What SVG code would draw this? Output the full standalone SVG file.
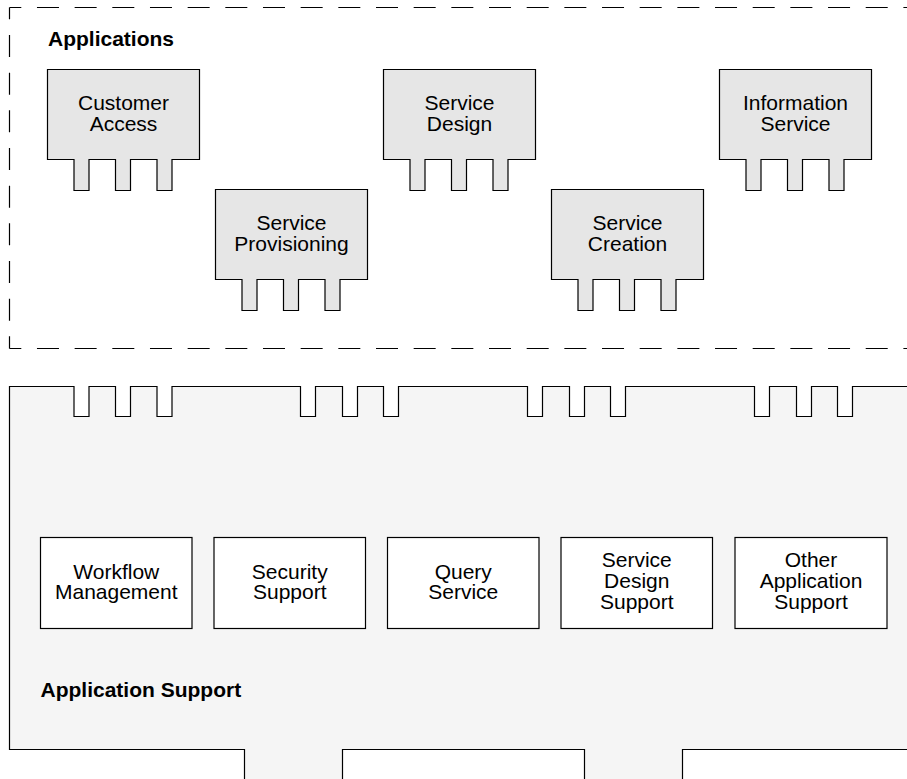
<svg xmlns="http://www.w3.org/2000/svg" width="907" height="779" viewBox="0 0 907 779">
<defs>
<style>
.frame{fill:none;stroke:#000;stroke-width:1.2;stroke-dasharray:22 15.67;stroke-dashoffset:10.2}
.app{fill:#e6e6e6;stroke:#000;stroke-width:1.2}
.sup{fill:#f5f5f5;stroke:#000;stroke-width:1.2}
.box{fill:#ffffff;stroke:#000;stroke-width:1.2}
.t{font-family:"Liberation Sans",Arial,Helvetica,sans-serif;font-size:21px;fill:#000;text-anchor:middle}
.h{font-family:"Liberation Sans",Arial,Helvetica,sans-serif;font-size:21px;font-weight:bold;fill:#000}
</style>
</defs>
<rect x="0" y="0" width="907" height="779" fill="#ffffff"/>

<g id="applications">
<path class="frame" d="M9.5,7.5 H920"/>
<path class="frame" d="M9.5,7.5 V348.5"/>
<path class="frame" d="M9.5,348.5 H920"/>
<text class="h" x="48" y="46">Applications</text>
</g>

<g id="customer-access">
<path class="app" d="M47.5,69.5 H199.5 V159.5 H172 V190.5 H157 V159.5 H130.5 V190.5 H115.5 V159.5 H89 V190.5 H74 V159.5 H47.5 Z"/>
<text class="t" x="123.5" y="110">Customer</text>
<text class="t" x="123.5" y="130.5">Access</text>
</g>

<g id="service-provisioning">
<path class="app" d="M215.5,189.5 H367.5 V279.5 H340 V310.5 H325 V279.5 H298.5 V310.5 H283.5 V279.5 H257 V310.5 H242 V279.5 H215.5 Z"/>
<text class="t" x="291.5" y="230">Service</text>
<text class="t" x="291.5" y="250.5">Provisioning</text>
</g>

<g id="service-design">
<path class="app" d="M383.5,69.5 H535.5 V159.5 H508 V190.5 H493 V159.5 H466.5 V190.5 H451.5 V159.5 H425 V190.5 H410 V159.5 H383.5 Z"/>
<text class="t" x="459.5" y="110">Service</text>
<text class="t" x="459.5" y="130.5">Design</text>
</g>

<g id="service-creation">
<path class="app" d="M551.5,189.5 H703.5 V279.5 H676 V310.5 H661 V279.5 H634.5 V310.5 H619.5 V279.5 H593 V310.5 H578 V279.5 H551.5 Z"/>
<text class="t" x="627.5" y="230">Service</text>
<text class="t" x="627.5" y="250.5">Creation</text>
</g>

<g id="information-service">
<path class="app" d="M719.5,69.5 H871.5 V159.5 H844 V190.5 H829 V159.5 H802.5 V190.5 H787.5 V159.5 H761 V190.5 H746 V159.5 H719.5 Z"/>
<text class="t" x="795.5" y="110">Information</text>
<text class="t" x="795.5" y="130.5">Service</text>
</g>

<g id="application-support">
<path class="sup" d="M915,386.5 H852.5 V416.5 H837.5 V386.5 H811.5 V416.5 H796.5 V386.5 H769.5 V416.5 H754.5 V386.5 H625.5 V416.5 H610.5 V386.5 H584.5 V416.5 H569.5 V386.5 H542.5 V416.5 H527.5 V386.5 H398.5 V416.5 H383.5 V386.5 H357.5 V416.5 H342.5 V386.5 H315.5 V416.5 H300.5 V386.5 H172 V416.5 H157 V386.5 H130.5 V416.5 H115.5 V386.5 H89 V416.5 H74 V386.5 H9.5 V749.5 H244.5 V790 H342.5 V749.5 H584.5 V790 H682.5 V749.5 H915 Z"/>
<text class="h" x="40.5" y="697">Application Support</text>
</g>

<g id="workflow-management">
<rect class="box" x="40.5" y="537.5" width="151.5" height="91"/>
<text class="t" x="116.25" y="578.5">Workflow</text>
<text class="t" x="116.25" y="599">Management</text>
</g>

<g id="security-support">
<rect class="box" x="214" y="537.5" width="151.5" height="91"/>
<text class="t" x="289.75" y="578.5">Security</text>
<text class="t" x="289.75" y="599">Support</text>
</g>

<g id="query-service">
<rect class="box" x="387.5" y="537.5" width="151.5" height="91"/>
<text class="t" x="463.25" y="578.5">Query</text>
<text class="t" x="463.25" y="599">Service</text>
</g>

<g id="service-design-support">
<rect class="box" x="561" y="537.5" width="151.5" height="91"/>
<text class="t" x="636.75" y="567">Service</text>
<text class="t" x="636.75" y="588">Design</text>
<text class="t" x="636.75" y="609">Support</text>
</g>

<g id="other-application-support">
<rect class="box" x="735" y="537.5" width="152" height="91"/>
<text class="t" x="811" y="567">Other</text>
<text class="t" x="811" y="588">Application</text>
<text class="t" x="811" y="609">Support</text>
</g>

<g id="connectors"></g>
</svg>
